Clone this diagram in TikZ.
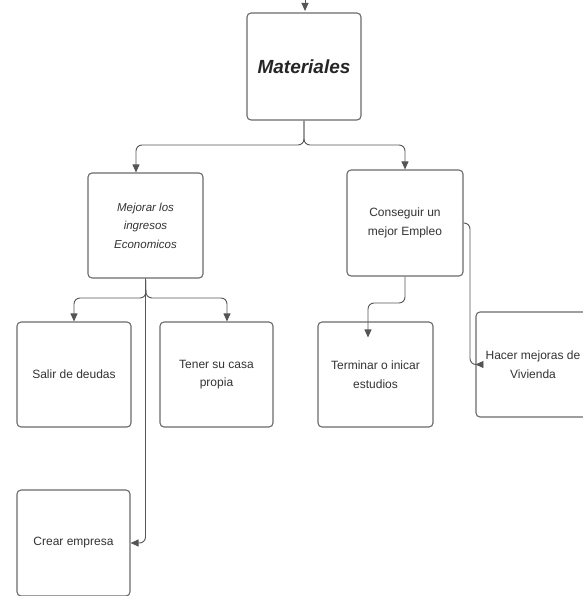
\documentclass[tikz,border=0pt]{standalone}
\usepackage{fontspec}
\setmainfont{Liberation Sans}
\usetikzlibrary{arrows.meta,calc}
\definecolor{boxline}{HTML}{6A6A6A}
\definecolor{conn}{HTML}{555555}
\definecolor{txt}{HTML}{333333}
\tikzset{
  card/.style={draw=boxline, line width=1.1pt, rounded corners=4pt, fill=white,
    minimum width=114pt, minimum height=105pt, align=center, inner sep=2pt,
    text=txt, font=\fontsize{12}{18.5}\selectfont},
  link/.style={draw=conn, line width=0.9pt, rounded corners=6pt,
    -{Triangle[length=8pt,width=7pt]}}
}
\begin{document}
\begin{tikzpicture}[x=1pt,y=-1pt]
\useasboundingbox (0,0) rectangle (582,596);
\node[card, minimum height=107pt, text=black!85] (mat) at (304,66.5)
  {\fontsize{19}{22}\selectfont\bfseries\itshape Materiales};
\node[card, minimum width=115pt, font=\fontsize{11.5}{18.5}\selectfont\itshape] (mej) at (145.5,225.5)
  {Mejorar los\\ingresos\\Economicos};
\node[card, minimum width=116pt, minimum height=106pt] (con) at (405,223)
  {Conseguir un\\mejor Empleo};
\node[card] (sal) at (74,374.5) {Salir de deudas};
\node[card, minimum width=113pt] (ten) at (216.5,374.5) {Tener su casa\\propia};
\node[card, minimum width=115pt] (ter) at (375.5,374.5) {Terminar o inicar\\estudios};
\node[card] (hac) at (533,364.5) {Hacer mejoras de\\Vivienda};
\node[card, minimum width=113pt, minimum height=106pt] (cre) at (73.5,543) {Crear empresa};

\coordinate (top) at (305,0);
\coordinate (topend) at (305,11);
\draw[link] (top) -- (topend);

\draw[link] (mat.south) -- (304,145) -- (136,145) -- ($(mej.north)+(-9.5,0)$);
\draw[link] (mat.south) -- (304,145) -- (405,145) -- (con.north);

\draw[link] (mej.south) -- (146,298) -- (74,298) -- (sal.north);
\draw[link] (mej.south) -- (146,298) -- (227,298) -- ($(ten.north)+(10.5,0)$);
\draw[link] (mej.south) |- (cre.east);

\draw[link] (con.south) -- (405,303) -- (368,303) -- ($(ter.north)+(-7.5,16)$);
\draw[link] (con.east) -- (470,223) |- (hac.west);
\end{tikzpicture}
\end{document}
